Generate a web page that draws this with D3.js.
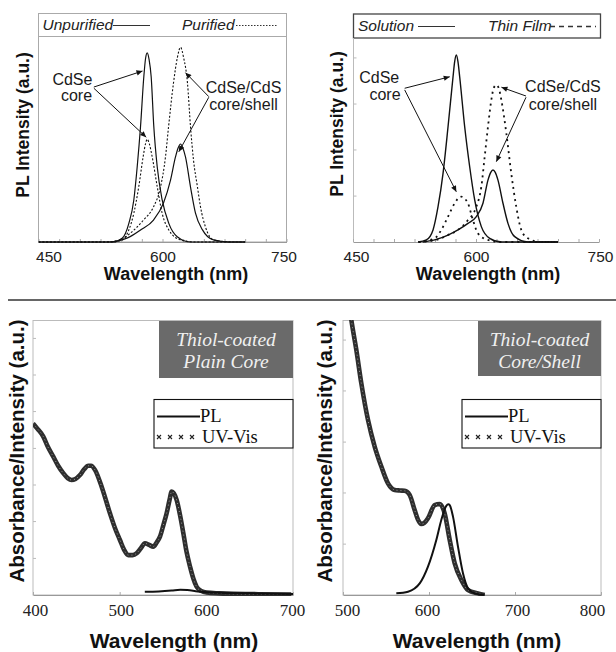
<!DOCTYPE html>
<html><head><meta charset="utf-8">
<script src="https://cdn.jsdelivr.net/npm/d3@7"></script>
<style>body{margin:0;background:#fff}</style>
</head><body><script>
// ---------------- DATA ----------------
// Top-left panel: PL spectra, unpurified (solid) vs purified (dashed)
const tlCoreUnpurified = [[450,0],[540,0],[551.2,0.018],[559.3,0.091],[565.3,0.205],[569.4,0.367],[573.4,0.562],[577.4,0.806],[579.5,0.895],[581.5,0.923],[583.8,0.89],[586.3,0.806],[589.5,0.562],[593.6,0.367],[599.6,0.205],[607.6,0.091],[617.8,0.026],[634,0],[700,0]];
const tlCorePurified = [[450,0],[540,0],[551.2,0.01],[559.3,0.059],[565.3,0.14],[571.3,0.27],[576.6,0.416],[579.5,0.48],[581.5,0.501],[584,0.48],[587.5,0.416],[593.6,0.27],[599.6,0.14],[607.6,0.059],[621.8,0.01],[640,0],[700,0]];
const tlShellUnpurified = [[450,0],[535,0],[557.7,0.02],[573.4,0.059],[589.1,0.107],[601.2,0.19],[609.7,0.302],[615.7,0.415],[619,0.46],[621.8,0.478],[624.5,0.46],[627.8,0.415],[633.9,0.268],[639.9,0.141],[648.4,0.059],[661.7,0.01],[680,0],[700,0]];
const tlShellPurified = [[450,0],[530,0],[549.2,0.01],[561.3,0.044],[577,0.107],[589.1,0.171],[597.6,0.268],[603.6,0.415],[607.3,0.561],[613.3,0.776],[618,0.9],[621.8,0.95],[625.5,0.9],[630.2,0.776],[633.9,0.561],[637.5,0.4],[642.3,0.268],[646,0.171],[652,0.073],[661.7,0.01],[685.9,0],[700,0]];

// Top-right panel: PL spectra, solution (solid) vs thin film (dotted)
const trCoreSolution = [[529.3,0],[539.4,0.01],[547.6,0.059],[553.7,0.172],[559.8,0.335],[565.9,0.562],[572,0.806],[574,0.88],[576,0.912],[578,0.88],[580.1,0.806],[586.2,0.562],[592.3,0.367],[598.4,0.205],[606.5,0.075],[616.7,0.018],[630.9,0],[700,0]];
const trCoreFilm = [[530,0],[549.6,0.018],[557.7,0.059],[565.9,0.124],[574,0.189],[578,0.212],[582.1,0.221],[586,0.212],[590.2,0.189],[596.3,0.107],[602.4,0.042],[614.6,0.01],[630,0],[700,0]];
const trShellSolution = [[535,0],[551.6,0.013],[565.9,0.034],[578,0.059],[590.2,0.091],[600.4,0.124],[608.5,0.189],[614.6,0.302],[618,0.34],[620.7,0.351],[623.5,0.34],[626.8,0.302],[632.9,0.189],[639,0.091],[647.2,0.026],[663.4,0],[700,0]];
const trShellFilm = [[530,0],[551.6,0.01],[565.9,0.034],[578,0.059],[590.2,0.107],[600.4,0.172],[606.5,0.27],[610.6,0.416],[614.6,0.562],[618.7,0.693],[621.5,0.75],[624.8,0.766],[627.8,0.75],[630.9,0.693],[637,0.53],[643,0.335],[649.1,0.172],[655.2,0.059],[663.4,0.018],[679.6,0],[700,0]];

// Bottom-left panel: thiol-coated plain core
const blUvVis = [[400,0.624],[405,0.605],[411.9,0.576],[417,0.54],[423.4,0.503],[429,0.47],[434.9,0.443],[440,0.425],[444.5,0.418],[449,0.422],[454.2,0.436],[459,0.457],[463.8,0.47],[467,0.47],[471.5,0.455],[479.2,0.394],[488.8,0.297],[495,0.24],[500.3,0.2],[505,0.165],[510,0.145],[515,0.145],[519.6,0.152],[524,0.168],[529.2,0.188],[534,0.182],[538.8,0.176],[542.5,0.19],[546.5,0.212],[550.5,0.255],[554.2,0.297],[557.5,0.345],[560,0.376],[562.5,0.37],[565.8,0.345],[570,0.285],[573.5,0.224],[577,0.16],[581.2,0.103],[585,0.06],[588.8,0.03],[594,0.015],[600.4,0.009],[615,0.006],[631,0.004],[660,0.003],[698,0.002]];
const blPL = [[529,0.012],[545,0.013],[560,0.016],[570,0.019],[578,0.018],[590,0.013],[610,0.009],[650,0.006],[700,0.004]];

// Bottom-right panel: thiol-coated core/shell
const brUvVis = [[507,1.06],[509.7,1.0],[515.5,0.891],[521.3,0.77],[529.1,0.636],[536.9,0.539],[544.6,0.467],[552.3,0.406],[560.1,0.382],[566,0.38],[571.7,0.379],[577.5,0.364],[583.3,0.309],[587,0.275],[591,0.258],[594.5,0.262],[598.8,0.279],[606.6,0.327],[612.4,0.331],[618.2,0.297],[624.1,0.2],[629.9,0.115],[637.6,0.055],[645.4,0.018],[657,0.006],[664.7,0]];
const brPL = [[562,0.006],[575.6,0.012],[589.2,0.042],[598.8,0.103],[608.5,0.2],[614.3,0.273],[620.1,0.324],[622.5,0.33],[624.1,0.327],[627.9,0.285],[633.7,0.176],[639.5,0.079],[645.4,0.024],[653.1,0.006],[664.7,0]];

// Tick labels
const topTickLabels = [450,600,750];
const topMinorTicks = [475,500,525,550,575,625,650,675,700,725];
const blTickLabels = [400,500,600,700];
const brTickLabels = [500,600,700,800];
const trYTicks = [0.224,0.449,0.673,0.898];
const blYTicks = [0.133,0.267,0.4,0.533,0.667,0.8,0.933];
const brYTicks = [0.185,0.371,0.556,0.742,0.927];

// Annotations (data coordinates)
const tlLabels = [{t:"CdSe",nm:491,v:0.766},{t:"core",nm:496,v:0.688},{t:"CdSe/CdS",nm:698,v:0.727},{t:"core/shell",nm:698,v:0.644}];
const tlArrows = [[517,0.756,575.8,0.834],[517,0.75,580.3,0.511],[656,0.709,627.8,0.826],[656,0.706,619.7,0.44]];
const trLabels = [{t:"CdSe",nm:482,v:0.776},{t:"core",nm:489,v:0.693},{t:"CdSe/CdS",nm:706,v:0.732},{t:"core/shell",nm:706,v:0.644}];
const trArrows = [[513,0.75,568,0.806],[513,0.742,576,0.245],[661,0.712,631,0.755],[661,0.706,624.8,0.392]];

// ---------------- DRAW ----------------
const SANS = "'Liberation Sans', Arial, Helvetica, sans-serif";
const SERIF = "'Liberation Serif', 'Times New Roman', serif";
const svg = d3.select("body").append("svg").attr("width",616).attr("height",652);
const defs = svg.append("defs");
defs.append("marker").attr("id","arr").attr("viewBox","0 0 10 10").attr("refX",10).attr("refY",5)
  .attr("markerWidth",7).attr("markerHeight",6).attr("markerUnits","userSpaceOnUse").attr("orient","auto")
  .append("path").attr("d","M0,0.5 L10,5 L0,9.5 Z").attr("fill","#111");

function clip(id,x0,y0,x1,y1){
  defs.append("clipPath").attr("id",id).append("rect").attr("x",x0).attr("y",y0).attr("width",x1-x0).attr("height",y1-y0);
}
function curve(g,data,x,y,opts){
  const line = d3.line().x(d=>x(d[0])).y(d=>y(d[1])).curve(d3.curveMonotoneX);
  return g.append("path").datum(data).attr("d",line).attr("fill","none")
    .attr("stroke",opts.stroke||"#111").attr("stroke-width",opts.width||1.2)
    .attr("stroke-dasharray",opts.dash||null).attr("stroke-linejoin","round");
}
function xAxis(yPos,x,values,labels,fontFamily,fontSize,dxMap,tickLen){
  const g = svg.append("g").attr("transform",`translate(0,${yPos})`)
    .call(d3.axisBottom(x).tickValues(values).tickSizeInner(-tickLen).tickSizeOuter(0).tickPadding(9)
      .tickFormat(d=>labels.includes(d)?String(d):""));
  g.select(".domain").attr("stroke","#999");
  g.selectAll(".tick line").attr("stroke","#aaa");
  g.selectAll(".tick text").attr("font-family",fontFamily).attr("font-size",fontSize).attr("fill","#222")
    .attr("dx",d=>dxMap[d]||0);
  return g;
}
function yTicks(xPos,y,vals){
  svg.append("g").selectAll("line").data(vals).join("line")
    .attr("x1",xPos).attr("x2",xPos+3).attr("y1",d=>y(d)).attr("y2",d=>y(d)).attr("stroke","#bbb");
}
function annotate(g,labels,arrows,x,y){
  g.append("g").selectAll("text").data(labels).join("text")
    .attr("x",d=>x(d.nm)).attr("y",d=>y(d.v)).attr("text-anchor","middle")
    .attr("font-family",SANS).attr("font-size",16).attr("fill","#1a1a1a").text(d=>d.t);
  g.append("g").selectAll("line").data(arrows).join("line")
    .attr("x1",d=>x(d[0])).attr("y1",d=>y(d[1])).attr("x2",d=>x(d[2])).attr("y2",d=>y(d[3]))
    .attr("stroke","#111").attr("stroke-width",1).attr("marker-end","url(#arr)");
}
function yTitle(txt,xPos,yPos,size){
  svg.append("text").attr("transform",`translate(${xPos},${yPos}) rotate(-90)`).attr("text-anchor","middle")
    .attr("font-family",SANS).attr("font-weight","bold").attr("font-size",size).attr("fill","#111").text(txt);
}
function xTitle(txt,xPos,yPos,size){
  svg.append("text").attr("x",xPos).attr("y",yPos).attr("text-anchor","middle")
    .attr("font-family",SANS).attr("font-weight","bold").attr("font-size",size).attr("fill","#111").text(txt);
}

// ===== Panel 1 (top-left) =====
{
  const x = d3.scaleLinear().domain([450,750]).range([38.5,286.5]);
  const y = d3.scaleLinear().domain([0,1]).range([242,37]);
  svg.append("rect").attr("x",38.5).attr("y",13.5).attr("width",248).attr("height",228.5).attr("fill","none").attr("stroke","#aaa");
  svg.append("line").attr("x1",38.5).attr("x2",286.5).attr("y1",36.5).attr("y2",36.5).attr("stroke","#aaa");
  xAxis(242,x,topTickLabels.concat(topMinorTicks),topTickLabels,SANS,15.5,{450:10,750:-3},3);
  clip("c1",38.5,37,286.5,243);
  const g = svg.append("g").attr("clip-path","url(#c1)");
  curve(g,tlCoreUnpurified,x,y,{width:1.2});
  curve(g,tlShellUnpurified,x,y,{width:1.2});
  curve(g,tlCorePurified,x,y,{width:1.1,dash:"2,1.8"});
  curve(g,tlShellPurified,x,y,{width:1.1,dash:"2,1.8"});
  annotate(svg.append("g"),tlLabels,tlArrows,x,y);
  // legend
  const lg = svg.append("g").attr("font-family",SANS).attr("font-style","italic").attr("font-size",15.5).attr("fill","#222");
  lg.append("text").attr("x",42.5).attr("y",30).text("Unpurified");
  lg.append("line").attr("x1",113).attr("x2",150).attr("y1",25.5).attr("y2",25.5).attr("stroke","#333").attr("stroke-width",1.1);
  lg.append("text").attr("x",182).attr("y",30).text("Purified");
  lg.append("line").attr("x1",236).attr("x2",277).attr("y1",25.5).attr("y2",25.5).attr("stroke","#333").attr("stroke-width",1.1).attr("stroke-dasharray","1.5,1.5");
  yTitle("PL Intensity (a.u.)",29,125,17.5);
  xTitle("Wavelength (nm)",176,280,18);
}

// ===== Panel 2 (top-right) =====
{
  const x = d3.scaleLinear().domain([450,750]).range([353,599]);
  const y = d3.scaleLinear().domain([0,1]).range([242,37]);
  svg.append("rect").attr("x",353.5).attr("y",14).attr("width",247).attr("height",24).attr("fill","none").attr("stroke","#444").attr("stroke-width",1.3);
  svg.append("line").attr("x1",353.5).attr("x2",353.5).attr("y1",38).attr("y2",242).attr("stroke","#bbb");
  xAxis(242,x,topTickLabels.concat(topMinorTicks),topTickLabels,SANS,15.5,{450:3,750:1},3);
  yTicks(353.5,y,trYTicks);
  clip("c2",353,38,600,243);
  const g = svg.append("g").attr("clip-path","url(#c2)");
  curve(g,trCoreSolution,x,y,{width:1.4});
  curve(g,trShellSolution,x,y,{width:1.4});
  curve(g,trCoreFilm,x,y,{width:1.8,dash:"2,4"});
  curve(g,trShellFilm,x,y,{width:1.8,dash:"2,4"});
  annotate(svg.append("g"),trLabels,trArrows,x,y);
  const lg = svg.append("g").attr("font-family",SANS).attr("font-style","italic").attr("font-size",15.5).attr("fill","#222");
  lg.append("text").attr("x",358).attr("y",31).text("Solution");
  lg.append("line").attr("x1",418).attr("x2",455).attr("y1",26.5).attr("y2",26.5).attr("stroke","#333").attr("stroke-width",1.2);
  lg.append("text").attr("x",488).attr("y",31).text("Thin Film");
  lg.append("line").attr("x1",550).attr("x2",596).attr("y1",26.5).attr("y2",26.5).attr("stroke","#333").attr("stroke-width",1.6).attr("stroke-dasharray","5,4");
  yTitle("PL Intensity (a.u.)",343,124,17.5);
  xTitle("Wavelength (nm)",488,280,18);
}

// separator
svg.append("line").attr("x1",8).attr("x2",616).attr("y1",300).attr("y2",300).attr("stroke","#666").attr("stroke-width",2);

// bottom panel helper
function bottomPanel(cfg){
  const x = d3.scaleLinear().domain(cfg.domain).range([cfg.x0,cfg.x1]);
  const y = d3.scaleLinear().domain([0,1]).range([595,320]);
  svg.append("rect").attr("x",cfg.x0).attr("y",320.5).attr("width",cfg.x1-cfg.x0).attr("height",274.5).attr("fill","none").attr("stroke","#bbb");
  xAxis(595,x,cfg.ticks,cfg.ticks,SERIF,17,cfg.dx,3);
  yTicks(cfg.x0,y,cfg.yt);
  clip(cfg.id,cfg.x0,320,cfg.x1,596);
  const g = svg.append("g").attr("clip-path",`url(#${cfg.id})`);
  curve(g,cfg.uv,x,y,{width:4.6,stroke:"#2e2e2e"});
  curve(g,cfg.uv,x,y,{width:1,stroke:"#9a9a9a",dash:"1,3"});
  curve(g,cfg.pl,x,y,{width:2,stroke:"#111"});
  // title box
  svg.append("rect").attr("x",cfg.bx).attr("y",321).attr("width",cfg.x1-cfg.bx).attr("height",cfg.bh).attr("fill","#6a6a6a");
  const cx = (cfg.bx+cfg.x1)/2;
  svg.append("g").attr("font-family",SERIF).attr("font-style","italic").attr("font-size",19.5).attr("fill","#f0f0f0")
    .attr("text-anchor","middle").selectAll("text").data(cfg.boxText).join("text")
    .attr("x",cx).attr("y",(d,i)=>346+i*22).text(d=>d);
  // legend
  const lx = cfg.lx;
  svg.append("rect").attr("x",lx).attr("y",399.5).attr("width",cfg.x1-lx).attr("height",48.5).attr("fill","#fff").attr("stroke","#111").attr("stroke-width",1.1);
  svg.append("line").attr("x1",lx+3).attr("x2",lx+46).attr("y1",416.5).attr("y2",416.5).attr("stroke","#111").attr("stroke-width",1.8);
  const lt = svg.append("g").attr("font-family",SERIF).attr("font-size",18.5).attr("fill","#111");
  lt.append("text").attr("x",lx+46).attr("y",422).text("PL");
  lt.append("text").attr("x",lx+48).attr("y",443).text("UV-Vis");
  const mk = [0,1,2,3];
  svg.append("g").selectAll("path").data(mk).join("path")
    .attr("d",d=>{const cx=lx+5+d*11, cy=437; return `M${cx-2},${cy-2}L${cx+2},${cy+2}M${cx+2},${cy-2}L${cx-2},${cy+2}`;})
    .attr("stroke","#222").attr("stroke-width",1.1);
  yTitle("Absorbance/Intensity (a.u.)",cfg.yt0,451,20.5);
  xTitle("Wavelength (nm)",cfg.xtc,648,21);
}
bottomPanel({id:"c3",domain:[400,700],x0:33,x1:293,ticks:blTickLabels,dx:{400:2,500:1,700:-1},yt:blYTicks,uv:blUvVis,pl:blPL,
  bx:159,bh:57,boxText:["Thiol-coated","Plain Core"],lx:154,yt0:24,xtc:174});
bottomPanel({id:"c4",domain:[500,800],x0:343,x1:601,ticks:brTickLabels,dx:{500:4,600:-2,700:2,800:-9},yt:brYTicks,uv:brUvVis,pl:brPL,
  bx:478,bh:55,boxText:["Thiol-coated","Core/Shell"],lx:462,yt0:332,xtc:477});
</script></body></html>
